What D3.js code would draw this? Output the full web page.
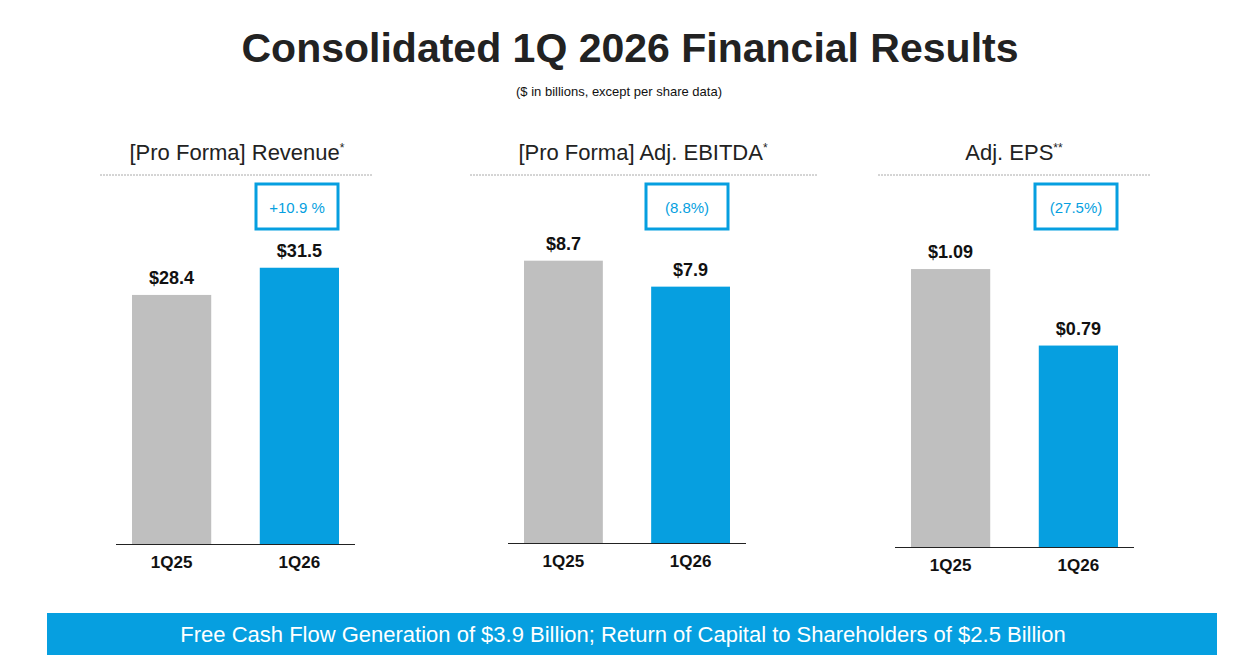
<!DOCTYPE html>
<html>
<head>
<meta charset="utf-8">
<script src="https://cdn.jsdelivr.net/npm/d3@7"></script>
<style>
  body { margin: 0; background: #fff; }
  text { font-family: Arial, "Liberation Sans", sans-serif; }
</style>
</head>
<body>
<div id="chart"></div>
<script>
// Data
var periods = ["1Q25", "1Q26"];
var panelTitles = ["[Pro Forma] Revenue", "[Pro Forma] Adj. EBITDA", "Adj. EPS"];
var titleMarks = ["*", "*", "**"];
var revenue = [28.4, 31.5];
var ebitda = [8.7, 7.9];
var eps = [1.09, 0.79];
var valueLabels = [["$28.4", "$31.5"], ["$8.7", "$7.9"], ["$1.09", "$0.79"]];
var changeLabels = ["+10.9 %", "(8.8%)", "(27.5%)"];
var seriesValues = [revenue, ebitda, eps];

var svgWidth = 1234, svgHeight = 661;
var grey = "#bfbfbf", blue = "#069fe0";

var svg = d3.select("#chart").append("svg")
  .attr("width", svgWidth).attr("height", svgHeight);

svg.append("text").attr("x", 630).attr("y", 62)
  .attr("text-anchor", "middle").attr("font-size", 41).attr("font-weight", "bold")
  .attr("fill", "#222").text("Consolidated 1Q 2026 Financial Results");
svg.append("text").attr("x", 619).attr("y", 96)
  .attr("text-anchor", "middle").attr("font-size", 13).attr("fill", "#111")
  .text("($ in billions, except per share data)");

// Panel layout
var panels = [
  { cx: 237, lineX: [100, 373], axisX: [116, 355], base: 544, px: 256, pxRange: [132, 339], perUnit: 8.77 },
  { cx: 643, lineX: [470, 817], axisX: [508, 746], base: 543, px: 646, pxRange: [524, 730], perUnit: 32.45 },
  { cx: 1014, lineX: [878, 1150], axisX: [895, 1134], base: 547, px: 1035, pxRange: [911, 1118], perUnit: 255 }
];

panels.forEach(function(p, i) {
  var g = svg.append("g");
  var vals = seriesValues[i];

  var t = g.append("text").attr("x", p.cx).attr("y", 160)
    .attr("text-anchor", "middle").attr("font-size", 22).attr("fill", "#222");
  t.append("tspan").text(panelTitles[i]);
  t.append("tspan").attr("dy", -8).attr("font-size", 12).text(titleMarks[i]);

  g.append("line").attr("x1", p.lineX[0]).attr("x2", p.lineX[1])
    .attr("y1", 175).attr("y2", 175)
    .attr("stroke", "#aaa").attr("stroke-dasharray", "2,1").attr("stroke-width", 1);

  g.append("rect").attr("x", p.px).attr("y", 184).attr("width", 82).attr("height", 45)
    .attr("fill", "none").attr("stroke", blue).attr("stroke-width", 3);
  g.append("text").attr("x", p.px + 41).attr("y", 213)
    .attr("text-anchor", "middle").attr("font-size", 15).attr("fill", blue)
    .text(changeLabels[i]);

  var x = d3.scaleBand().domain(periods).range(p.pxRange).paddingInner(0.38);
  var maxV = (p.base - 180) / p.perUnit;
  var y = d3.scaleLinear().domain([0, maxV]).range([p.base, 180]);

  g.selectAll(".bar").data(vals).enter().append("rect")
    .attr("x", function(d, j) { return x(periods[j]); })
    .attr("y", function(d) { return y(d); })
    .attr("width", x.bandwidth())
    .attr("height", function(d) { return p.base - y(d); })
    .attr("fill", function(d, j) { return j === 0 ? grey : blue; });

  g.selectAll(".val").data(vals).enter().append("text")
    .attr("x", function(d, j) { return x(periods[j]) + x.bandwidth() / 2; })
    .attr("y", function(d) { return y(d) - 11; })
    .attr("text-anchor", "middle").attr("font-size", 18).attr("font-weight", "bold")
    .attr("fill", "#111")
    .text(function(d, j) { return valueLabels[i][j]; });

  g.append("line").attr("x1", p.axisX[0]).attr("x2", p.axisX[1])
    .attr("y1", p.base + 0.5).attr("y2", p.base + 0.5).attr("stroke", "#222");

  var axis = d3.axisBottom(x).tickSize(0).tickPadding(12);
  var ag = g.append("g").attr("transform", "translate(0," + p.base + ")").call(axis);
  ag.select(".domain").remove();
  ag.selectAll("text").attr("font-size", 17).attr("font-weight", "bold")
    .attr("fill", "#111").style("font-family", "Arial, 'Liberation Sans', sans-serif");
});

svg.append("rect").attr("x", 47).attr("y", 613).attr("width", 1170).attr("height", 42)
  .attr("fill", blue);
svg.append("text").attr("x", 623).attr("y", 642).attr("text-anchor", "middle")
  .attr("font-size", 22).attr("fill", "#fff")
  .text("Free Cash Flow Generation of $3.9 Billion; Return of Capital to Shareholders of $2.5 Billion");
</script>
</body>
</html>
